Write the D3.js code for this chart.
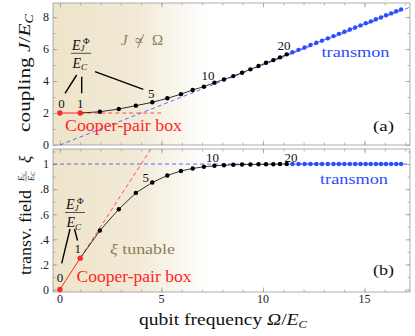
<!DOCTYPE html>
<html>
<head>
<meta charset="utf-8">
<script src="https://cdn.jsdelivr.net/npm/d3@7"></script>
<style>
  body { margin: 0; background: #fff; }
  svg { display: block; }
  svg text { font-family: "Liberation Serif", "DejaVu Serif", serif; }
</style>
</head>
<body>
<svg width="415" height="336"></svg>
<script>

// ~~~~~~ DATA ~~~~~~

// qubit frequency Omega/E_C for E_J/E_C = 0, 1, 2, ... 40
var omega = [0, 1.0, 1.97, 2.9, 3.74, 4.55, 5.29, 5.96, 6.54, 7.09,
             7.61, 8.08, 8.54, 8.97, 9.38, 9.78, 10.15, 10.51, 10.84, 11.17,
             11.45, 11.75, 12.05, 12.34, 12.63, 12.91, 13.19, 13.47, 13.74, 14.01,
             14.28, 14.54, 14.80, 15.06, 15.31, 15.56, 15.81, 16.06, 16.31, 16.56, 16.80];

// panel (a): coupling J/E_C
var coupling = [2.0, 2.0, 2.08, 2.25, 2.46, 2.67, 2.92, 3.18, 3.44, 3.65,
                3.9, 4.1, 4.31, 4.52, 4.73, 4.94, 5.14, 5.31, 5.48, 5.67,
                5.80, 5.95, 6.10, 6.25, 6.39, 6.53, 6.67, 6.81, 6.95, 7.08,
                7.22, 7.35, 7.48, 7.61, 7.73, 7.86, 7.98, 8.11, 8.23, 8.36, 8.48];

// panel (b): transverse field (E_C/E_C) xi
var field = [0, 0.25, 0.47, 0.64, 0.77, 0.853, 0.909, 0.945, 0.965, 0.978,
             0.986, 0.991, 0.994, 0.996, 0.997, 0.998, 0.999, 0.999, 1.0, 1.0,
             1, 1, 1, 1, 1, 1, 1, 1, 1, 1,
             1, 1, 1, 1, 1, 1, 1, 1, 1, 1, 1];

// regimes: index <= cpbLast is Cooper-pair box, index >= transmonFirst is transmon
var cpbLast = 1;
var transmonFirst = 20;

// which E_J/E_C values get a number next to them
var labelled = [0, 1, 5, 10, 20];

// reference lines
var couplingAsym = [[0, 0], [17.24, 8.62]];     // J = Omega/2
var couplingCpb = [[1, 2], [5, 2]];              // J = 2 E_C
var fieldCpb = [[1, 0.25], [4.48, 1.12]];        // xi = Omega/4
var fieldAsym = [[-0.34, 1], [17.24, 1]];        // xi = 1

// ticks
var xMajor = [0, 5, 10, 15];
var xMinor = d3.range(0, 18, 1);
var yTopMajor = [0, 2, 4, 6, 8];
var yTopMinor = d3.range(0, 9, 1);
var yBotMajor = [0, 0.2, 0.4, 0.6, 0.8, 1];
var yBotLabels = ["0", ".2", ".4", ".6", ".8", "1"];
var yBotMinor = d3.range(0, 12).map(function(i) { return i / 10; });

// ~~~~~~ COLORS ~~~~~~
var red = "#ff2626",
    blue = "#2b4dff",
    olive = "#8b7d58",
    frame = "#9a9a9a",
    serif = "'Liberation Serif', 'DejaVu Serif', serif";

// ~~~~~~ SVG & SCALES ~~~~~~
var svg = d3.select("svg");

var left = 53, right = 410;
var x = d3.scaleLinear().domain([-0.34, 17.24]).range([left, right]);
var yTop = d3.scaleLinear().domain([0, 8.88]).range([145, 3]);
var yBot = d3.scaleLinear().domain([-0.02, 1.12]).range([292, 149]);

var pts = omega.map(function(o, i) {
  return {ej: i, omega: o, J: coupling[i], xi: field[i]};
});

function regime(d) {
  if (d.ej <= cpbLast) return "cpb";
  if (d.ej >= transmonFirst) return "tr";
  return "mid";
}

// shading gradient (the J not-proportional-to Omega region)
var defs = svg.append("defs");
var grad = defs.append("linearGradient")
  .attr("id", "shade")
  .attr("gradientUnits", "userSpaceOnUse")
  .attr("x1", left).attr("x2", 207).attr("y1", 0).attr("y2", 0);
grad.append("stop").attr("offset", 0).attr("stop-color", "#eee4c9");
grad.append("stop").attr("offset", 0.55).attr("stop-color", "#f2ead7");
grad.append("stop").attr("offset", 1).attr("stop-color", "#ffffff");

// ~~~~~~ PANELS ~~~~~~

function drawFrame(y, major, minor, labels) {
  var g = svg.append("g");
  var y0 = y.range()[0], y1 = y.range()[1];

  g.append("rect")
    .attr("x", left).attr("y", y1)
    .attr("width", right - left).attr("height", y0 - y1)
    .attr("fill", "url(#shade)");

  function ticks(axis, tx, ty) {
    var a = g.append("g").attr("transform", "translate(" + tx + "," + ty + ")").call(axis);
    a.attr("font-family", null);
    a.select(".domain").remove();
    a.selectAll("line").attr("stroke", frame).attr("stroke-width", 0.7);
    a.selectAll("text").attr("fill", "#222").style("font-size", "12px")
      .style("font-family", serif);
    return a;
  }

  // x ticks, bottom and top, pointing inwards
  ticks(d3.axisBottom(x).tickValues(minor.x).tickSize(-2.5).tickFormat(""), 0, y0);
  ticks(d3.axisBottom(x).tickValues(major.x).tickSize(-4.5).tickFormat(""), 0, y0);
  ticks(d3.axisTop(x).tickValues(minor.x).tickSize(-2.5).tickFormat(""), 0, y1);
  ticks(d3.axisTop(x).tickValues(major.x).tickSize(-4.5).tickFormat(""), 0, y1);

  // y ticks, left and right
  ticks(d3.axisLeft(y).tickValues(minor.y).tickSize(-2.5).tickFormat(""), left, 0);
  ticks(d3.axisLeft(y).tickValues(major.y).tickSize(-4.5).tickPadding(4)
          .tickFormat(function(d, i) { return labels[i]; }), left, 0);
  ticks(d3.axisRight(y).tickValues(minor.y).tickSize(-2.5).tickFormat(""), right, 0);
  ticks(d3.axisRight(y).tickValues(major.y).tickSize(-4.5).tickFormat(""), right, 0);

  g.append("rect")
    .attr("x", left).attr("y", y1)
    .attr("width", right - left).attr("height", y0 - y1)
    .attr("fill", "none").attr("stroke", frame).attr("stroke-width", 0.8);
  return g;
}

drawFrame(yTop, {x: xMajor, y: yTopMajor}, {x: xMinor, y: yTopMinor},
          yTopMajor.map(String));
drawFrame(yBot, {x: xMajor, y: yBotMajor}, {x: xMinor, y: yBotMinor},
          yBotLabels);

// x tick labels on the bottom panel only
svg.append("g").selectAll("text")
  .data(xMajor).enter().append("text")
  .attr("x", function(d) { return x(d); })
  .attr("y", 303)
  .attr("text-anchor", "middle")
  .style("font-size", "12px")
  .attr("fill", "#222")
  .text(function(d) { return d; });

// ~~~~~~ CURVES ~~~~~~

function drawCurve(y, key, refA, refB) {
  var g = svg.append("g");
  var line = d3.line().x(function(d) { return x(d[0]); }).y(function(d) { return y(d[1]); });
  var ptLine = d3.line().x(function(d) { return x(d.omega); }).y(function(d) { return y(d[key]); });

  // dashed reference lines
  g.append("path").attr("d", line(refA)).attr("fill", "none")
    .attr("stroke", blue).attr("stroke-width", 0.8).attr("stroke-dasharray", "4,3");
  g.append("path").attr("d", line(refB)).attr("fill", "none")
    .attr("stroke", red).attr("stroke-width", 0.8).attr("stroke-dasharray", "4,3");

  // solid lines
  g.append("path").attr("d", ptLine(pts.slice(0, cpbLast + 1))).attr("fill", "none")
    .attr("stroke", red).attr("stroke-width", 1);
  g.append("path").attr("d", ptLine(pts.slice(cpbLast, transmonFirst))).attr("fill", "none")
    .attr("stroke", "#000").attr("stroke-width", 0.8);
  g.append("path").attr("d", ptLine(pts.slice(transmonFirst - 1))).attr("fill", "none")
    .attr("stroke", blue).attr("stroke-width", 0.8);

  g.selectAll("circle").data(pts).enter().append("circle")
    .attr("cx", function(d) { return x(d.omega); })
    .attr("cy", function(d) { return y(d[key]); })
    .attr("r", function(d) { return regime(d) == "cpb" ? 2.7 : 2.2; })
    .attr("fill", function(d) {
      var r = regime(d);
      return r == "cpb" ? red : (r == "tr" ? blue : "#000");
    });
  return g;
}

drawCurve(yTop, "J", couplingAsym, couplingCpb);
drawCurve(yBot, "xi", fieldAsym, fieldCpb);

// ~~~~~~ POINT LABELS ~~~~~~
// pixel offsets from the point, per panel
var offTop = {0: [1.5, -5], 1: [0, -5], 5: [-1, -4], 10: [-6.5, -3], 20: [-8.5, -2]};
var offBot = {0: [0, -7.5], 1: [-2.5, -5], 5: [-6.5, -0.7], 10: [-2, -3.4], 20: [-1.5, -2.5]};

function drawNumbers(y, key, off) {
  svg.append("g").selectAll("text")
    .data(labelled).enter().append("text")
    .attr("x", function(d) { return x(omega[d]) + off[d][0]; })
    .attr("y", function(d) { return y(pts[d][key]) + off[d][1]; })
    .attr("text-anchor", "middle")
    .style("font-size", "13px")
    .attr("fill", "#111")
    .text(function(d) { return d; });
}
drawNumbers(yTop, "J", offTop);
drawNumbers(yBot, "xi", offBot);

// E_J^Phi / E_C fraction with pointer lines
function drawFraction(cx, barY, pointers) {
  var g = svg.append("g").attr("fill", "#111");
  var num = g.append("text").attr("x", cx - 9).attr("y", barY - 3.5).style("font-size", "14px");
  num.append("tspan").style("font-style", "italic").text("E");
  num.append("tspan").attr("dy", 1.5).style("font-size", "9px").style("font-style", "italic").text("J");
  num.append("tspan").attr("dx", -1.5).attr("dy", -7).style("font-size", "9px").text("Φ");
  g.append("line").attr("x1", cx - 10).attr("x2", cx + 10)
    .attr("y1", barY).attr("y2", barY).attr("stroke", "#111").attr("stroke-width", 0.7);
  var den = g.append("text").attr("x", cx - 8.5).attr("y", barY + 14.5).style("font-size", "14px");
  den.append("tspan").style("font-style", "italic").text("E");
  den.append("tspan").attr("dy", 2.5).style("font-size", "9px").style("font-style", "italic").text("C");
  pointers.forEach(function(p) {
    g.append("line")
      .attr("x1", p[0]).attr("y1", p[1]).attr("x2", p[2]).attr("y2", p[3])
      .attr("stroke", "#000").attr("stroke-width", 1.4);
  });
}
drawFraction(81, 53.3, [[76.7, 75, 65, 93.3], [81.7, 76.7, 81.7, 93.3], [95, 71.7, 143.3, 89.3]]);
drawFraction(75, 212.5, [[70, 229, 61.7, 263.3], [74.5, 229, 77.5, 240.5]]);

// ~~~~~~ TEXT ~~~~~~
function label(txt, px, py, color, size, len) {
  return svg.append("text").attr("x", px).attr("y", py)
    .style("font-size", size + "px").attr("fill", color)
    .attr("textLength", len).attr("lengthAdjust", "spacingAndGlyphs")
    .text(txt);
}

label("Cooper-pair box", 65, 131, red, 16, 117);
label("Cooper-pair box", 76.5, 282, red, 16, 115);
label("transmon", 321.5, 57, blue, 15.5, 68);
label("transmon", 320, 184, blue, 15.5, 68);
label("(a)", 373, 131, "#111", 15, 21);
label("(b)", 373, 275, "#111", 15, 21);

// J not-proportional-to Omega
var jno = svg.append("g").attr("fill", olive);
var jt = jno.append("text").attr("x", 121).attr("y", 45.3).style("font-size", "15px");
jt.append("tspan").style("font-style", "italic").text("J");
jt.append("tspan").attr("x", 134).text("∝");
jt.append("tspan").attr("x", 152).text("Ω");
jno.append("line").attr("x1", 137.5).attr("y1", 48).attr("x2", 144).attr("y2", 34)
  .attr("stroke", olive).attr("stroke-width", 0.9);

var tun = svg.append("text").attr("x", 110).attr("y", 254).attr("fill", olive)
  .style("font-size", "15.5px").attr("textLength", 65).attr("lengthAdjust", "spacingAndGlyphs");
tun.append("tspan").style("font-style", "italic").text("ξ");
tun.append("tspan").text(" tunable");

// x axis title
var xt = svg.append("text").attr("x", 223).attr("y", 325).attr("text-anchor", "middle")
  .style("font-size", "17px").attr("fill", "#111")
  .attr("textLength", 168).attr("lengthAdjust", "spacingAndGlyphs");
xt.append("tspan").text("qubit frequency ");
xt.append("tspan").style("font-style", "italic").text("Ω");
xt.append("tspan").text("/");
xt.append("tspan").style("font-style", "italic").text("E");
xt.append("tspan").attr("dy", 3).style("font-size", "11px").style("font-style", "italic").text("C");

// y axis titles
var yt = svg.append("text").attr("transform", "translate(30,73) rotate(-90)")
  .attr("text-anchor", "middle").style("font-size", "17.5px").attr("fill", "#111")
  .attr("textLength", 118).attr("lengthAdjust", "spacingAndGlyphs");
yt.append("tspan").text("coupling ");
yt.append("tspan").style("font-style", "italic").text("J");
yt.append("tspan").text("/");
yt.append("tspan").style("font-style", "italic").text("E");
yt.append("tspan").attr("dy", 3).style("font-size", "11.5px").style("font-style", "italic").text("C");

var yb = svg.append("g").attr("transform", "translate(31,275) rotate(-90)").attr("fill", "#111");
yb.append("text").attr("x", 0).attr("y", 0).style("font-size", "17px")
  .attr("textLength", 85).attr("lengthAdjust", "spacingAndGlyphs").text("transv.  field");
var fn = yb.append("text").attr("x", 94).attr("y", -7.5).style("font-size", "8.5px");
fn.append("tspan").style("font-style", "italic").text("E");
fn.append("tspan").attr("dy", 1).style("font-size", "6px").style("font-style", "italic").text("c");
yb.append("line").attr("x1", 93.5).attr("x2", 104).attr("y1", -5).attr("y2", -5)
  .attr("stroke", "#111").attr("stroke-width", 0.5);
var fd = yb.append("text").attr("x", 94).attr("y", 2.5).style("font-size", "8.5px");
fd.append("tspan").style("font-style", "italic").text("E");
fd.append("tspan").attr("dy", 1).style("font-size", "6px").style("font-style", "italic").text("C");
yb.append("text").attr("x", 112).attr("y", 0).style("font-size", "17px")
  .style("font-style", "italic").text("ξ");

</script>
</body>
</html>
